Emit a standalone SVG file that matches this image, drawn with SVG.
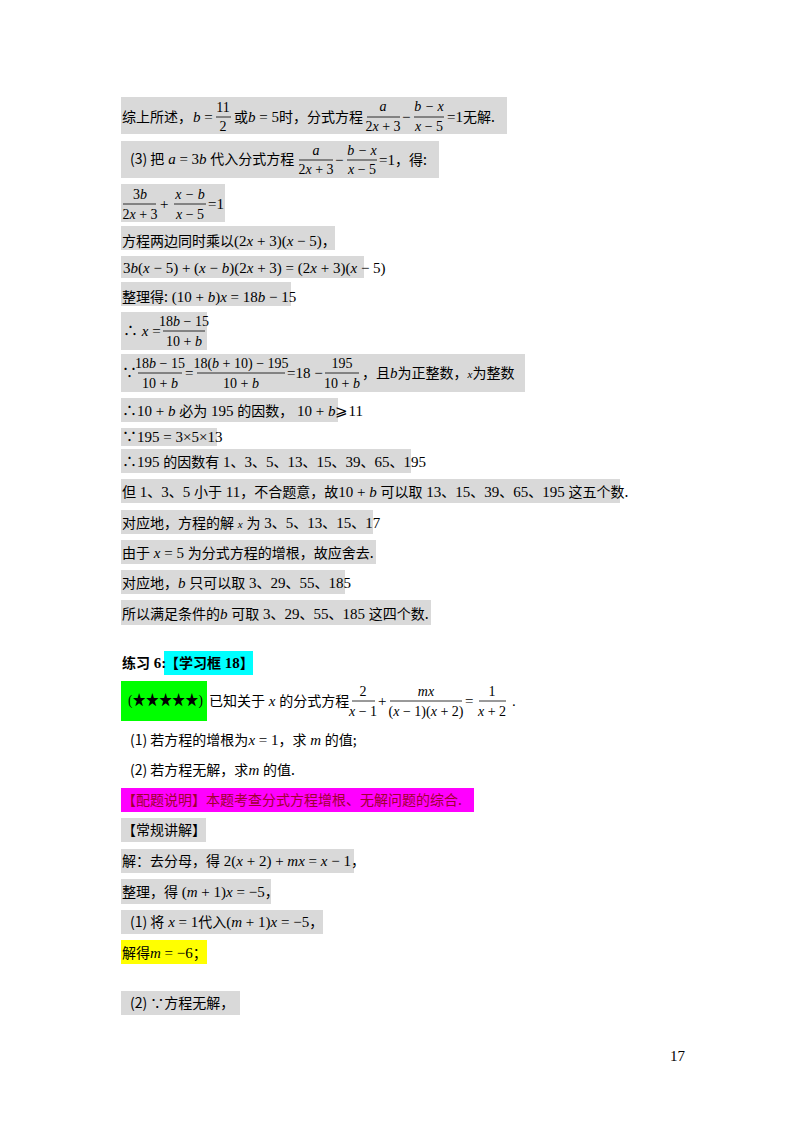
<svg xmlns="http://www.w3.org/2000/svg" width="800" height="1132" viewBox="0 0 800 1132">
<style>
text{font-family:"Liberation Serif","Noto Sans CJK SC",serif;font-size:15px;fill:#000}
.c{font-family:"Noto Sans CJK SC",sans-serif;font-size:14px}
.i{font-style:italic}
.f{font-size:14px}
.bar{stroke:#000;stroke-width:0.8}
.g{fill:#d9d9d9}
.mid{text-anchor:middle}
</style>
<rect width="800" height="1132" fill="#fff"/>
<g id="highlights">
<rect class="g" x="121" y="97" width="386" height="37"/>
<rect class="g" x="121" y="141" width="318" height="37"/>
<rect class="g" x="121" y="184" width="104" height="38"/>
<rect class="g" x="121" y="226" width="214" height="24"/>
<rect class="g" x="121" y="256" width="243" height="22"/>
<rect class="g" x="121" y="282" width="170" height="24"/>
<rect class="g" x="121" y="312" width="86" height="38"/>
<rect class="g" x="121" y="354" width="404" height="38"/>
<rect class="g" x="121" y="398" width="217" height="24"/>
<rect class="g" x="121" y="428" width="96" height="18"/>
<rect class="g" x="121" y="449" width="290" height="24"/>
<rect class="g" x="121" y="479" width="499" height="24"/>
<rect class="g" x="121" y="510" width="252" height="24"/>
<rect class="g" x="121" y="540" width="255" height="24"/>
<rect class="g" x="121" y="570" width="224" height="24"/>
<rect class="g" x="121" y="600" width="310" height="25"/>
<rect x="164" y="651" width="89" height="24" fill="#00ffff"/>
<rect x="121" y="681" width="86" height="40" fill="#00ff00"/>
<rect x="121" y="788" width="353" height="24" fill="#ff00ff"/>
<rect class="g" x="121" y="818" width="85" height="24"/>
<rect class="g" x="121" y="849" width="233" height="24"/>
<rect class="g" x="121" y="879" width="150" height="25"/>
<rect class="g" x="121" y="910" width="202" height="24"/>
<rect x="121" y="940" width="86" height="24" fill="#ffff00"/>
<rect class="g" x="121" y="991" width="119" height="24"/>
</g>
<g id="content">
<text x="122" y="122"><tspan class="c">综上所述，</tspan></text>
<text x="193" y="122"><tspan class="i">b</tspan> =</text>
<text class="mid f" x="223" y="112">11</text><line class="bar" x1="216" y1="117" x2="231" y2="117"/><text class="mid f" x="223" y="131">2</text>
<text x="234" y="122"><tspan class="c">或</tspan><tspan class="i">b</tspan> = 5<tspan class="c">时，分式方程</tspan></text>
<text class="mid f i" x="383" y="111">a</text><line class="bar" x1="367" y1="117" x2="400" y2="117"/><text class="mid f" x="383" y="131">2<tspan class="i">x</tspan> + 3</text>
<text x="402" y="122">−</text>
<text class="mid f i" x="429" y="111">b − x</text><line class="bar" x1="414" y1="117" x2="444" y2="117"/><text class="mid f" x="429" y="131"><tspan class="i">x</tspan> − 5</text>
<text x="447" y="122">=1<tspan class="c">无解.</tspan></text>
<text x="130" y="164"><tspan class="c">(3) 把</tspan> <tspan class="i">a</tspan> = 3<tspan class="i">b</tspan> <tspan class="c">代入分式方程</tspan></text>
<text class="mid f i" x="316" y="155">a</text><line class="bar" x1="299" y1="160" x2="333" y2="160"/><text class="mid f" x="316" y="174">2<tspan class="i">x</tspan> + 3</text>
<text x="335" y="165">−</text>
<text class="mid f i" x="362" y="155">b − x</text><line class="bar" x1="347" y1="160" x2="377" y2="160"/><text class="mid f" x="362" y="174"><tspan class="i">x</tspan> − 5</text>
<text x="379" y="165">=1<tspan class="c">，得:</tspan></text>
<text class="mid f" x="140" y="199">3<tspan class="i">b</tspan></text><line class="bar" x1="123" y1="204" x2="156" y2="204"/><text class="mid f" x="140" y="219">2<tspan class="i">x</tspan> + 3</text>
<text x="160" y="209">+</text>
<text class="mid f i" x="190" y="199">x − b</text><line class="bar" x1="174" y1="204" x2="206" y2="204"/><text class="mid f" x="190" y="219"><tspan class="i">x</tspan> − 5</text>
<text x="208" y="209">=1</text>
<text x="122" y="246"><tspan class="c">方程两边同时乘以</tspan>(2<tspan class="i">x</tspan> + 3)(<tspan class="i">x</tspan> − 5)<tspan class="c">，</tspan></text>
<text x="123" y="273">3<tspan class="i">b</tspan>(<tspan class="i">x</tspan> − 5) + (<tspan class="i">x</tspan> − <tspan class="i">b</tspan>)(2<tspan class="i">x</tspan> + 3) = (2<tspan class="i">x</tspan> + 3)(<tspan class="i">x</tspan> − 5)</text>
<text x="122" y="302"><tspan class="c">整理得:</tspan> (10 + <tspan class="i">b</tspan>)<tspan class="i">x</tspan> = 18<tspan class="i">b</tspan> − 15</text>
<text x="123" y="336">∴ <tspan class="i">x</tspan> =</text>
<text class="mid f" x="184" y="326">18<tspan class="i">b</tspan> − 15</text><line class="bar" x1="163" y1="331" x2="205" y2="331"/><text class="mid f" x="184" y="346">10 + <tspan class="i">b</tspan></text>
<text x="122" y="378" font-size="12">∵</text>
<text class="mid f" x="160" y="368">18<tspan class="i">b</tspan> − 15</text><line class="bar" x1="138" y1="373" x2="182" y2="373"/><text class="mid f" x="160" y="388">10 + <tspan class="i">b</tspan></text>
<text x="185" y="378">=</text>
<text class="mid f" x="241" y="368">18(<tspan class="i">b</tspan> + 10) − 195</text><line class="bar" x1="197" y1="373" x2="285" y2="373"/><text class="mid f" x="241" y="388">10 + <tspan class="i">b</tspan></text>
<text x="287" y="378">=18 −</text>
<text class="mid f" x="342" y="368">195</text><line class="bar" x1="325" y1="373" x2="359" y2="373"/><text class="mid f" x="342" y="388">10 + <tspan class="i">b</tspan></text>
<text x="362" y="378"><tspan class="c">，且</tspan><tspan class="i">b</tspan><tspan class="c">为正整数，</tspan><tspan class="i" font-size="11">x</tspan><tspan class="c">为整数</tspan></text>
<text x="122" y="416">∴10 + <tspan class="i">b</tspan> <tspan class="c">必为</tspan> 195 <tspan class="c">的因数，</tspan> 10 + <tspan class="i">b</tspan>⩾11</text>
<text x="122" y="442">∵195 = 3×5×13</text>
<text x="122" y="467">∴195 <tspan class="c">的因数有</tspan> 1<tspan class="c">、</tspan>3<tspan class="c">、</tspan>5<tspan class="c">、</tspan>13<tspan class="c">、</tspan>15<tspan class="c">、</tspan>39<tspan class="c">、</tspan>65<tspan class="c">、</tspan>195</text>
<text x="122" y="497"><tspan class="c">但</tspan> 1<tspan class="c">、</tspan>3<tspan class="c">、</tspan>5 <tspan class="c">小于</tspan> 11<tspan class="c">，不合题意，故</tspan>10 + <tspan class="i">b</tspan> <tspan class="c">可以取</tspan> 13<tspan class="c">、</tspan>15<tspan class="c">、</tspan>39<tspan class="c">、</tspan>65<tspan class="c">、</tspan>195 <tspan class="c">这五个数.</tspan></text>
<text x="122" y="528"><tspan class="c">对应地，方程的解</tspan> <tspan class="i" font-size="11">x</tspan> <tspan class="c">为</tspan> 3<tspan class="c">、</tspan>5<tspan class="c">、</tspan>13<tspan class="c">、</tspan>15<tspan class="c">、</tspan>17</text>
<text x="122" y="558"><tspan class="c">由于</tspan> <tspan class="i">x</tspan> = 5 <tspan class="c">为分式方程的增根，故应舍去.</tspan></text>
<text x="122" y="588"><tspan class="c">对应地，</tspan><tspan class="i">b</tspan> <tspan class="c">只可以取</tspan> 3<tspan class="c">、</tspan>29<tspan class="c">、</tspan>55<tspan class="c">、</tspan>185</text>
<text x="122" y="619"><tspan class="c">所以满足条件的</tspan><tspan class="i">b</tspan> <tspan class="c">可取</tspan> 3<tspan class="c">、</tspan>29<tspan class="c">、</tspan>55<tspan class="c">、</tspan>185 <tspan class="c">这四个数.</tspan></text>
<text x="122" y="668" font-weight="bold"><tspan class="c" font-weight="bold">练习</tspan> 6:</text>
<text x="165" y="668" font-weight="bold"><tspan class="c" font-weight="bold">【学习框</tspan> 18<tspan class="c" font-weight="bold">】</tspan></text>
<text x="128" y="705" font-size="13" textLength="75" lengthAdjust="spacingAndGlyphs">(★★★★★)</text>
<text x="209" y="706"><tspan class="c">已知关于</tspan> <tspan class="i">x</tspan> <tspan class="c">的分式方程</tspan></text>
<text class="mid f" x="363" y="696">2</text><line class="bar" x1="352" y1="701" x2="375" y2="701"/><text class="mid f" x="363" y="716"><tspan class="i">x</tspan> − 1</text>
<text x="378" y="706">+</text>
<text class="mid f i" x="426" y="696">mx</text><line class="bar" x1="390" y1="701" x2="462" y2="701"/><text class="mid f" x="426" y="716">(<tspan class="i">x</tspan> − 1)(<tspan class="i">x</tspan> + 2)</text>
<text x="465" y="706">=</text>
<text class="mid f" x="492" y="696">1</text><line class="bar" x1="479" y1="701" x2="506" y2="701"/><text class="mid f" x="492" y="716"><tspan class="i">x</tspan> + 2</text>
<text x="512" y="706">.</text>
<text x="130" y="745"><tspan class="c">(1) 若方程的增根为</tspan><tspan class="i">x</tspan> = 1<tspan class="c">，求</tspan> <tspan class="i">m</tspan> <tspan class="c">的值;</tspan></text>
<text x="130" y="775"><tspan class="c">(2) 若方程无解，求</tspan><tspan class="i">m</tspan> <tspan class="c">的值.</tspan></text>
<text x="122" y="805"><tspan class="c" fill="#a00030">【配题说明】本题考查分式方程增根、无解问题的综合.</tspan></text>
<text x="122" y="835"><tspan class="c">【常规讲解】</tspan></text>
<text x="122" y="866"><tspan class="c">解：去分母，得</tspan> 2(<tspan class="i">x</tspan> + 2) + <tspan class="i">mx</tspan> = <tspan class="i">x</tspan> − 1<tspan class="c">，</tspan></text>
<text x="122" y="897"><tspan class="c">整理，得</tspan> (<tspan class="i">m</tspan> + 1)<tspan class="i">x</tspan> = −5<tspan class="c">，</tspan></text>
<text x="130" y="927"><tspan class="c">(1) 将</tspan> <tspan class="i">x</tspan> = 1<tspan class="c">代入</tspan>(<tspan class="i">m</tspan> + 1)<tspan class="i">x</tspan> = −5<tspan class="c">，</tspan></text>
<text x="122" y="958"><tspan class="c">解得</tspan><tspan class="i">m</tspan> = −6<tspan class="c">；</tspan></text>
<text x="130" y="1008"><tspan class="c">(2) ∵方程无解，</tspan></text>
<text x="670" y="1061" font-size="13">17</text>
</g>
</svg>
